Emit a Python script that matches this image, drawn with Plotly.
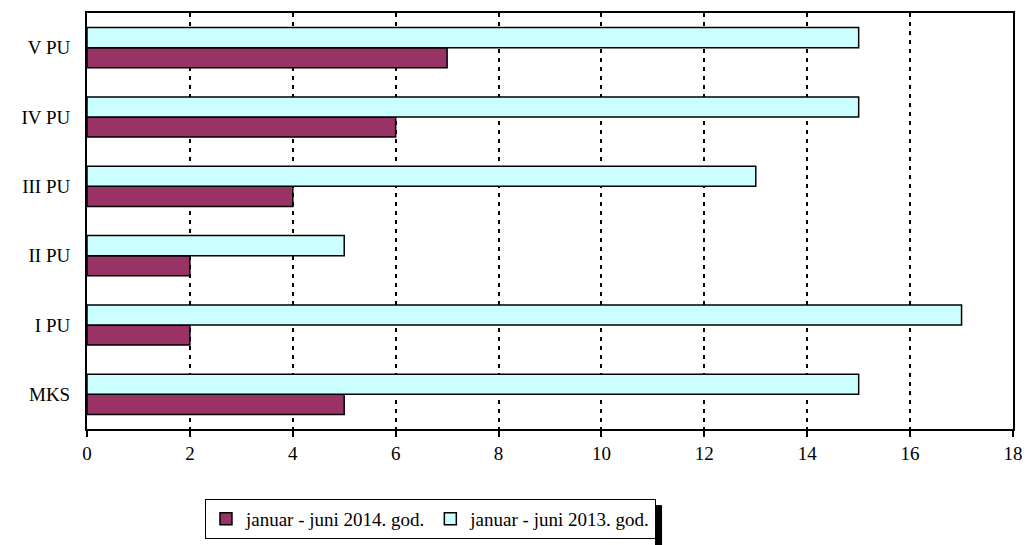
import plotly.graph_objects as go

categories = ["MKS", "I PU", "II PU", "III PU", "IV PU", "V PU"]
values_2014 = [5, 2, 2, 4, 6, 7]
values_2013 = [15, 17, 5, 13, 15, 15]
name_2014 = "januar - juni 2014. god."
name_2013 = "januar - juni 2013. god."

font = dict(family="Liberation Serif", size=19, color="black")

fig = go.Figure()
fig.add_trace(go.Bar(y=categories, x=values_2014, orientation="h", name=name_2014,
                     marker=dict(color="#993366", line=dict(color="black", width=1.5))))
fig.add_trace(go.Bar(y=categories, x=values_2013, orientation="h", name=name_2013,
                     marker=dict(color="#CCFFFF", line=dict(color="black", width=1.5))))

fig.update_layout(
    width=1022, height=537,
    margin=dict(l=79, r=17, t=5, b=116),
    paper_bgcolor="white", plot_bgcolor="white",
    font=font,
    barmode="group", bargap=0.42, bargroupgap=0,
    showlegend=True,
    legend=dict(orientation="h", x=0.1274, y=-0.168, xanchor="left", yanchor="top",
                bordercolor="black", borderwidth=1, bgcolor="white",
                font=font, itemwidth=30, tracegroupgap=0),
    xaxis=dict(range=[0, 18], dtick=2, tick0=0, showgrid=True, gridcolor="black",
               griddash="4px,5px", gridwidth=2, showline=True, linecolor="black", linewidth=2,
               mirror=True, ticks="outside", ticklen=6, tickcolor="black", tickwidth=2,
               zeroline=False, fixedrange=True, automargin=False),
    yaxis=dict(showline=True, linecolor="black", linewidth=2, mirror=True, ticks="",
               ticklabelstandoff=11, showgrid=False, zeroline=False, fixedrange=True,
               automargin=False),
    shapes=[dict(type="rect", xref="paper", yref="paper", x0=0.6134, x1=0.6210,
                 y0=-0.279, y1=-0.183, fillcolor="black", line=dict(width=0))],
)

fig.write_html("out.html", config={"displayModeBar": False})
